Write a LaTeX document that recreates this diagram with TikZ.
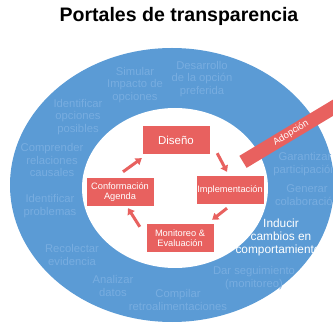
\documentclass[tikz,border=0pt]{standalone}
\usepackage{fontspec}
\setmainfont{Liberation Sans}
\usetikzlibrary{shapes.geometric,arrows.meta}
\definecolor{ringblue}{RGB}{91,155,213}
\definecolor{faintblue}{RGB}{120,173,224}
\definecolor{stagered}{RGB}{232,97,95}

\begin{document}
\begin{tikzpicture}[>={Triangle[length=6bp,width=8bp]},line join=bevel,
  stage/.style={fill=stagered,text=white,minimum width=67bp,minimum height=28bp,inner sep=0pt,align=center,font=\fontsize{9.3}{10.5}\selectfont},
  task/.style={text=faintblue,align=center,inner sep=0pt,font=\fontsize{11.3}{12.5}\selectfont},
  flow/.style={->,draw=stagered,line width=3bp}]
\useasboundingbox (0bp,0bp) rectangle (333bp,323bp);
\clip (0bp,0bp) rectangle (333bp,323bp);
%%
\node (title) at (179bp,307bp) [font=\fontsize{19.6}{22}\selectfont\bfseries] {Portales de transparencia};
\node (ring) at (172bp,138bp) [ellipse,fill=ringblue,inner sep=0pt,minimum width=324bp,minimum height=274bp] {};
\node (core) at (175bp,135bp) [ellipse,fill=white,inner sep=0pt,minimum width=186bp,minimum height=160bp] {};
%
  \node (simular) at (135bp,238bp) [task] {Simular\\Impacto de\\opciones};
  \node (desarrollo) at (202bp,244bp) [task] {Desarrollo\\de la opción\\preferida};
  \node (opciones) at (78bp,206bp) [task] {Identificar\\opciones\\posibles};
  \node (causales) at (52bp,163bp) [task] {Comprender\\relaciones\\causales};
  \node (problemas) at (50bp,117bp) [task] {Identificar\\problemas};
  \node (evidencia) at (72bp,68bp) [task] {Recolectar\\evidencia};
  \node (datos) at (113bp,37bp) [task] {Analizar\\datos};
  \node (retro) at (178bp,23bp) [task] {Compilar\\retroalimentaciones};
  \node (seguimiento) at (254bp,45bp) [task] {Dar seguimiento\\(monitoreo)};
  \node (participacion) at (305bp,159bp) [task] {Garantizar\\participación};
  \node (colaboracion) at (307bp,128bp) [task] {Generar\\colaboración};
  \node (cambios) at (281bp,86bp) [task,text=white,font=\fontsize{11.9}{13}\selectfont] {Inducir\\cambios en\\comportamientos};
%
  \node (adopcion) at (291bp,190bp) [fill=stagered,text=white,rotate=31,minimum width=112bp,minimum height=14bp,inner sep=0pt,font=\fontsize{9.5}{10}\selectfont] {Adopción};
%
  \node (diseno) at (176bp,183bp) [stage,font=\fontsize{11.5}{12}\selectfont] {Diseño};
  \node (impl) at (230bp,133bp) [stage] {Implementación};
  \node (agenda) at (120bp,131bp) [stage] {Conformación\\Agenda};
  \node (monitoreo) at (180bp,85bp) [stage] {Monitoreo \&\\Evaluación};
%
  \draw [flow] ([xshift=3bp,yshift=6bp]agenda.north) -- ([xshift=-0.5bp,yshift=-4bp]diseno.south west);
  \draw [flow] ([xshift=7.5bp,yshift=1bp]diseno.south east) -- ([xshift=-3bp,yshift=4bp]impl.north);
  \draw [flow] ([xshift=-3bp,yshift=-4bp]impl.south) -- ([xshift=-1.5bp,yshift=4bp]monitoreo.north east);
  \draw [flow] ([xshift=-6.5bp,yshift=-3bp]monitoreo.north west) -- ([xshift=8bp,yshift=-2bp]agenda.south);
%
\end{tikzpicture}
\end{document}
